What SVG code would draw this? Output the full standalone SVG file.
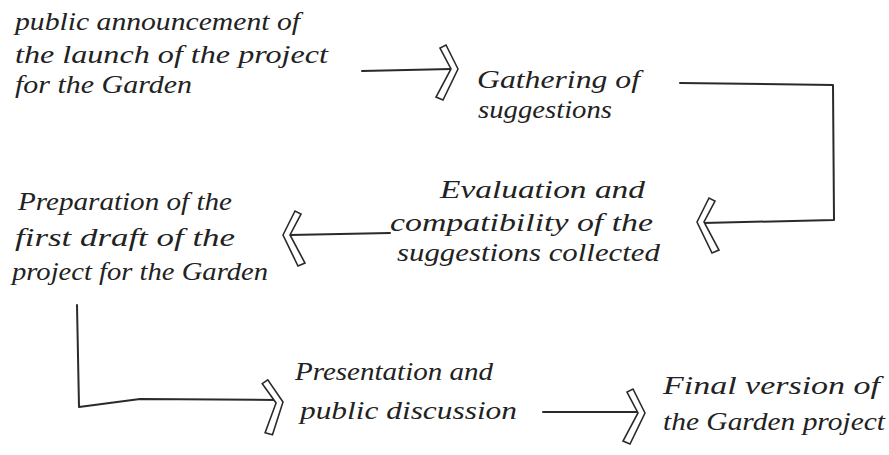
<svg xmlns="http://www.w3.org/2000/svg" width="889" height="455" viewBox="0 0 889 455">
<style>
.t{font-family:"Liberation Serif","DejaVu Serif",serif;font-style:italic;font-size:25px;fill:#222}
.ln{fill:none;stroke:#2a2a2a;stroke-width:2;stroke-linecap:round;stroke-linejoin:round}
.ch{fill:#fff;stroke:#2a2a2a;stroke-width:1.6;stroke-linejoin:miter}
</style>
<defs>
<polygon id="chev" points="0,0 -12,-24 -18,-21 -7,0 -22,28 -15,31"/>
</defs>
<rect width="889" height="455" fill="#fff"/>
<g id="connectors">
<path class="ln" d="M362,71 L451,69"/>
<path class="ln" d="M680,83 L833,85 L834,220 L703,223"/>
<path class="ln" d="M390,233 L290,235"/>
<path class="ln" d="M77,305 L79,407 L140,399 L277,400"/>
<path class="ln" d="M543,412 L639,412"/>
<use href="#chev" class="ch" transform="translate(458,69)"/>
<use href="#chev" class="ch" transform="translate(697,222) rotate(180) scale(1,-1)"/>
<use href="#chev" class="ch" transform="translate(283,235) rotate(180) scale(1,-1)"/>
<use href="#chev" class="ch" transform="translate(283,402) rotate(-8)"/>
<use href="#chev" class="ch" transform="translate(645,413)"/>
</g>
<g id="n1">
<text class="t" x="15" y="30" textLength="285" lengthAdjust="spacingAndGlyphs">public announcement of</text>
<text class="t" x="15" y="63" textLength="313" lengthAdjust="spacingAndGlyphs">the launch of the project</text>
<text class="t" x="15" y="93" textLength="177" lengthAdjust="spacingAndGlyphs">for the Garden</text>
</g>
<g id="n2">
<text class="t" x="477" y="88" textLength="163" lengthAdjust="spacingAndGlyphs">Gathering of</text>
<text class="t" x="478" y="118" textLength="134" lengthAdjust="spacingAndGlyphs">suggestions</text>
</g>
<g id="n3">
<text class="t" x="440" y="198" textLength="205" lengthAdjust="spacingAndGlyphs">Evaluation and</text>
<text class="t" x="390" y="231" textLength="263" lengthAdjust="spacingAndGlyphs">compatibility of the</text>
<text class="t" x="397" y="261" textLength="263" lengthAdjust="spacingAndGlyphs">suggestions collected</text>
</g>
<g id="n4">
<text class="t" x="18" y="210" textLength="214" lengthAdjust="spacingAndGlyphs">Preparation of the</text>
<text class="t" x="15" y="246" textLength="220" lengthAdjust="spacingAndGlyphs">first draft of the</text>
<text class="t" x="12" y="280" textLength="256" lengthAdjust="spacingAndGlyphs">project for the Garden</text>
</g>
<g id="n5">
<text class="t" x="295" y="380" textLength="198" lengthAdjust="spacingAndGlyphs">Presentation and</text>
<text class="t" x="300" y="419" textLength="217" lengthAdjust="spacingAndGlyphs">public discussion</text>
</g>
<g id="n6">
<text class="t" x="663" y="394" textLength="217" lengthAdjust="spacingAndGlyphs">Final version of</text>
<text class="t" x="663" y="430" textLength="222" lengthAdjust="spacingAndGlyphs">the Garden project</text>
</g>
</svg>
